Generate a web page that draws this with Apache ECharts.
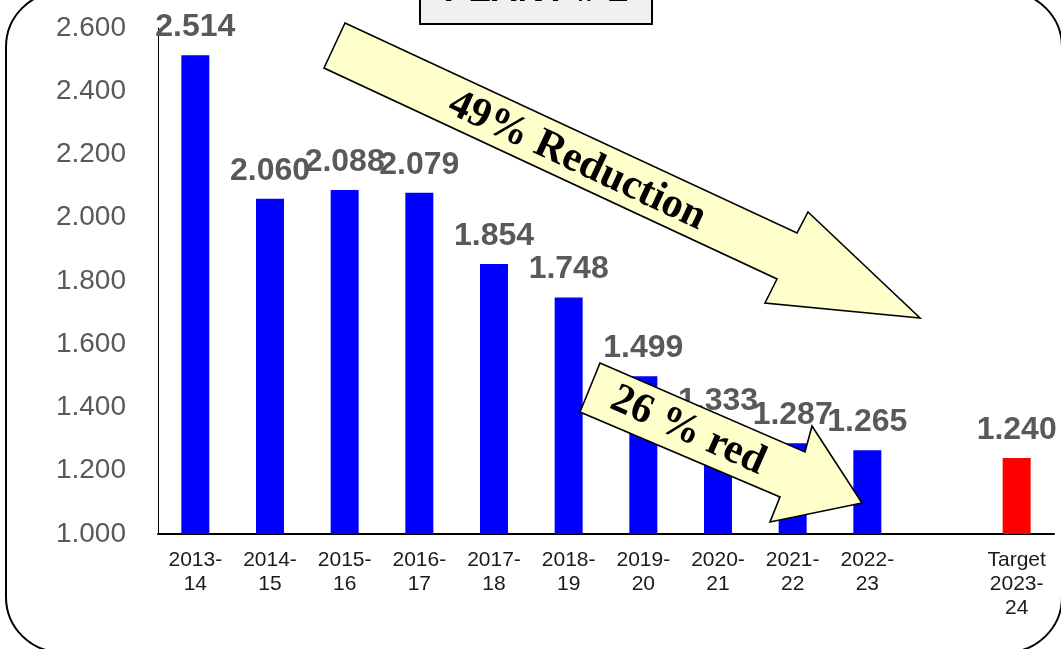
<!DOCTYPE html>
<html>
<head>
<meta charset="utf-8">
<script src="https://cdn.jsdelivr.net/npm/echarts@6/dist/echarts.min.js"></script>
<style>
  html, body { margin: 0; padding: 0; background: #ffffff; }
  #chart { width: 1061px; height: 649px; }
</style>
</head>
<body>
<div id="chart"></div>
<script>
// Specific energy per year, Plant # 2
const categories = ['2013-\n14', '2014-\n15', '2015-\n16', '2016-\n17', '2017-\n18',
  '2018-\n19', '2019-\n20', '2020-\n21', '2021-\n22', '2022-\n23', '', 'Target\n2023-\n24'];
const actualValues = [2.514, 2.060, 2.088, 2.079, 1.854, 1.748, 1.499, 1.333, 1.287, 1.265, null, null];
const targetValues = [null, null, null, null, null, null, null, null, null, null, null, 1.240];
const yMin = 1.0, yMax = 2.6, yStep = 0.2;
const titleText = 'PLANT # 2';
const bigArrowText = '49% Reduction';
const smallArrowText = '26 % red';

const chart = echarts.init(document.getElementById('chart'), null, { renderer: 'canvas' });

const valueLabel = {
  show: true,
  position: 'top',
  distance: 12,
  color: '#595959',
  fontFamily: 'Liberation Sans, Arial, sans-serif',
  fontWeight: 'bold',
  fontSize: 32,
  lineHeight: 32,
  formatter: p => (p.value == null ? '' : Number(p.value).toFixed(3))
};

const arrowStyle = { fill: '#FFFFCC', stroke: '#000000', lineWidth: 1.6, lineJoin: 'miter' };
const arrowFont = 'bold 42px "Liberation Serif", "Times New Roman", serif';

chart.setOption({
  animation: false,
  backgroundColor: '#ffffff',
  grid: { left: 158, right: 7, top: 28, bottom: 115, containLabel: false },
  xAxis: {
    type: 'category',
    data: categories,
    axisLine: { show: true, lineStyle: { color: '#000000', width: 2 } },
    axisTick: { show: false },
    axisLabel: {
      interval: 0,
      margin: 14,
      color: '#1a1a1a',
      fontFamily: 'Liberation Sans, Arial, sans-serif',
      fontSize: 21,
      lineHeight: 24
    },
    splitLine: { show: false }
  },
  yAxis: {
    type: 'value',
    min: yMin,
    max: yMax,
    interval: yStep,
    axisLine: { show: true, lineStyle: { color: '#000000', width: 1 } },
    axisTick: { show: false },
    splitLine: { show: false },
    axisLabel: {
      margin: 32,
      color: '#595959',
      fontFamily: 'Liberation Sans, Arial, sans-serif',
      fontSize: 28,
      formatter: v => v.toFixed(3)
    }
  },
  series: [
    {
      name: 'Actual',
      type: 'bar',
      stack: 'all',
      data: actualValues,
      barWidth: 28,
      itemStyle: { color: '#0000FF' },
      label: valueLabel
    },
    {
      name: 'Target',
      type: 'bar',
      stack: 'all',
      data: targetValues,
      barWidth: 28,
      itemStyle: { color: '#FF0000' },
      label: valueLabel
    }
  ],
  graphic: [
    {
      type: 'rect',
      z: 50,
      shape: { x: 6, y: -8, width: 1056, height: 660, r: 55 },
      style: { fill: 'none', stroke: '#000000', lineWidth: 2 }
    },
    {
      type: 'rect',
      z: 60,
      shape: { x: 420, y: -40, width: 232, height: 64 },
      style: { fill: '#F0F0F0', stroke: '#000000', lineWidth: 2 }
    },
    {
      type: 'text',
      z: 61,
      x: 536,
      y: -9,
      style: {
        text: titleText,
        fill: '#000000',
        font: 'bold 37px "Liberation Sans", Arial, sans-serif',
        align: 'center',
        verticalAlign: 'middle'
      }
    },
    {
      type: 'polygon',
      z: 100,
      shape: { points: [[345, 23], [797, 233], [808, 212], [920, 318], [765, 303], [777, 279], [324, 68]] },
      style: arrowStyle
    },
    {
      type: 'text',
      z: 101,
      x: 577,
      y: 161,
      rotation: -25 * Math.PI / 180,
      style: { text: bigArrowText, fill: '#000000', font: arrowFont, align: 'center', verticalAlign: 'middle' }
    },
    {
      type: 'polygon',
      z: 100,
      shape: { points: [[600, 363], [805, 452], [812, 426], [862, 503], [770, 522], [780, 497], [580, 412]] },
      style: arrowStyle
    },
    {
      type: 'text',
      z: 101,
      x: 688,
      y: 431,
      rotation: -24 * Math.PI / 180,
      style: { text: smallArrowText, fill: '#000000', font: arrowFont, align: 'center', verticalAlign: 'middle' }
    }
  ]
});
</script>
</body>
</html>
